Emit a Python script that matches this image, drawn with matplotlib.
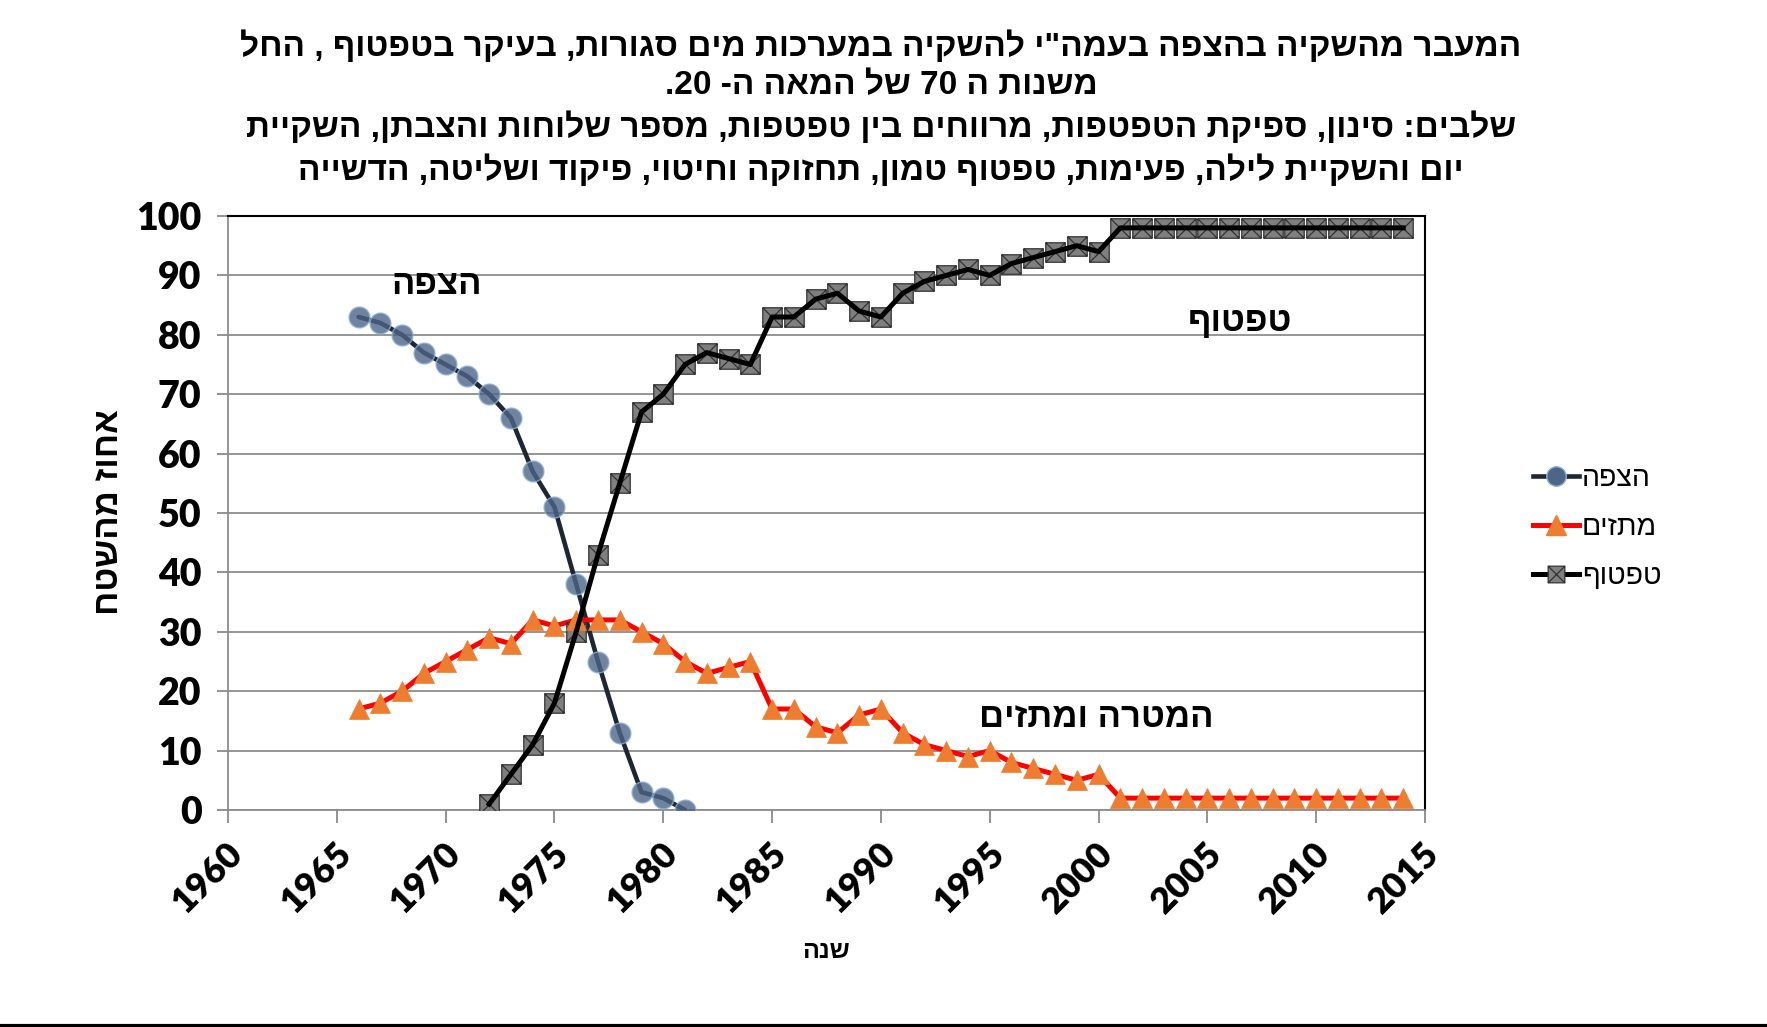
import re
import matplotlib
matplotlib.use("Agg")
import matplotlib.pyplot as plt
from matplotlib.path import Path
from matplotlib.lines import Line2D
from matplotlib.transforms import ScaledTranslation

# ---------------- data ----------------
years_hazafa = [1966, 1967, 1968, 1969, 1970, 1971, 1972, 1973, 1974, 1975,
                1976, 1977, 1978, 1979, 1980, 1981]
hazafa = [83, 82, 80, 77, 75, 73, 70, 66, 57, 51, 38, 25, 13, 3, 2, 0]

years_mataz = list(range(1966, 2015))
mataz = [17, 18, 20, 23, 25, 27, 29, 28, 32, 31,
         32, 32, 32, 30, 28, 25, 23, 24, 25, 17,
         17, 14, 13, 16, 17, 13, 11, 10, 9, 10,
         8, 7, 6, 5, 6, 2, 2, 2, 2, 2,
         2, 2, 2, 2, 2, 2, 2, 2, 2]

years_taftuf = list(range(1972, 2015))
taftuf = [1, 6, 11, 18, 30, 43, 55, 67, 70, 75,
          77, 76, 75, 83, 83, 86, 87, 84, 83, 87,
          89, 90, 91, 90, 92, 93, 94, 95, 94, 98,
          98, 98, 98, 98, 98, 98, 98, 98, 98, 98,
          98, 98, 98]

series_names = ["הצפה", "מתזים", "טפטוף"]
title_lines = [
    'המעבר מהשקיה בהצפה בעמה"י להשקיה במערכות מים סגורות, בעיקר בטפטוף , החל',
    'משנות ה 70 של המאה ה- 20.',
    'שלבים: סינון, ספיקת הטפטפות, מרווחים בין טפטפות, מספר שלוחות והצבתן, השקיית',
    'יום והשקיית לילה, פעימות, טפטוף טמון, תחזוקה וחיטוי, פיקוד ושליטה, הדשייה',
]
ylabel_text = "אחוז מהשטח"
xlabel_text = "שנה"
annot_hazafa = "הצפה"
annot_taftuf = "טפטוף"
annot_mataz = "המטרה ומתזים"
x_ticks = list(range(1960, 2016, 5))
y_ticks = list(range(0, 101, 10))


def vis(s):
    """Simple RTL visual ordering: reverse, keep digit runs left-to-right."""
    r = s[::-1]
    return re.sub(r'[0-9]+', lambda m: m.group(0)[::-1], r)


HEB = ['Liberation Sans', 'DejaVu Sans']
NUM = ['Lato', 'DejaVu Sans']

W, H = 1767, 1027
fig = plt.figure(figsize=(W / 100, H / 100), dpi=100)
fig.patch.set_facecolor('white')

L, R, T, B = 228, 1425, 216, 810
ax = fig.add_axes([L / W, 1 - B / H, (R - L) / W, (B - T) / H])

# custom square-with-X marker
verts = [(-1, -1), (1, -1), (1, 1), (-1, 1), (-1, -1),
         (-1, -1), (1, 1), (-1, 1), (1, -1)]
codes = [Path.MOVETO, Path.LINETO, Path.LINETO, Path.LINETO, Path.CLOSEPOLY,
         Path.MOVETO, Path.LINETO, Path.MOVETO, Path.LINETO]
sqx = Path(verts, codes)

# Hazafa
ax.plot(years_hazafa, hazafa, color='#1e2633', lw=3.3, zorder=3,
        solid_capstyle='round')
ax.plot(years_hazafa, hazafa, ls='none', marker='o', ms=15,
        mfc='#4d6587', mec='#8db0d9', mew=1.0, alpha=0.8, zorder=4)

# Mataz
ax.plot(years_mataz, mataz, color='#ff0000', lw=3.6, zorder=3)
ax.plot(years_mataz, mataz, ls='none', marker='^', ms=15,
        mfc='#ed7d31', mec='#ed7d31', mew=0.5, zorder=4)

# Taftuf
ax.plot(years_taftuf, taftuf, ls='none', marker=sqx, ms=14,
        mfc='#7f7f7f', mec='#333333', mew=0.9, zorder=3)
ax.plot(years_taftuf, taftuf, color='#000000', lw=3.6, zorder=5)

ax.set_xlim(1960, 2015)
ax.set_ylim(0, 100)
ax.set_xticks(x_ticks)
ax.set_yticks(y_ticks)
ax.set_xticklabels([str(v) for v in x_ticks], rotation=45, ha='right',
                   va='center', rotation_mode='anchor',
                   fontsize=26, fontweight='heavy', family=NUM)
ax.set_yticklabels([str(v) for v in y_ticks], fontsize=27,
                   fontweight='heavy', family=NUM)
ax.tick_params(axis='x', length=9, width=1.2, color='#808080', pad=28)
ax.tick_params(axis='y', length=8, width=1.2, color='#808080', pad=11)
shift = ScaledTranslation(0.09, 0.13, fig.dpi_scale_trans)
for lab in ax.get_xticklabels():
    lab.set_transform(lab.get_transform() + shift)
ax.grid(axis='y', color='#8c8c8c', lw=1.3)
ax.set_axisbelow(True)
for s in ['left', 'bottom']:
    ax.spines[s].set_color('#8c8c8c')
    ax.spines[s].set_linewidth(1.3)
for s in ['top', 'right']:
    ax.spines[s].set_color('#000000')
    ax.spines[s].set_linewidth(1.5)

# axis labels
fig.text(108 / W, 1 - 512 / H, vis(ylabel_text), rotation=90, ha='center',
         va='center', fontsize=25, fontweight='bold', family=HEB)
fig.text(826 / W, 1 - 951 / H, vis(xlabel_text), ha='center', va='center',
         fontsize=18, fontweight='bold', family=HEB)

# annotations
ax.text(1969.6, 88.5, vis(annot_hazafa), ha='center', va='center',
        fontsize=25, fontweight='bold', family=HEB)
ax.text(2006.5, 82.3, vis(annot_taftuf), ha='center', va='center',
        fontsize=25, fontweight='bold', family=HEB)
ax.text(1999.9, 15.5, vis(annot_mataz), ha='center', va='center',
        fontsize=25, fontweight='bold', family=HEB)

# title
title_y = [47, 86, 128, 171]
for line, yy in zip(title_lines, title_y):
    fig.text(881 / W, 1 - yy / H, vis(line), ha='center', va='center',
             fontsize=24, fontweight='bold', family=HEB)

# legend
handles = [
    Line2D([], [], color='#1e2633', lw=3.3, marker='o', ms=14,
           mfc='#4d6587', mec='#8db0d9', mew=1.0),
    Line2D([], [], color='#ff0000', lw=3.6, marker='^', ms=15,
           mfc='#ed7d31', mec='#ed7d31'),
    Line2D([], [], color='#000000', lw=3.6, marker=sqx, ms=12,
           mfc='#7f7f7f', mec='#333333', mew=0.9),
]
fig.legend(handles, [vis(n) for n in series_names], loc='center left',
           bbox_to_anchor=(1522 / W, 1 - 528 / H), frameon=False,
           prop={'family': HEB, 'size': 20.5}, handlelength=1.6,
           handletextpad=0.1, labelspacing=0.8, borderaxespad=0)

# bottom rule
fig.add_artist(Line2D([0, 1], [1.5 / H, 1.5 / H], color='black', lw=3,
                      transform=fig.transFigure))

fig.savefig('out.png', dpi=100, facecolor='white')
